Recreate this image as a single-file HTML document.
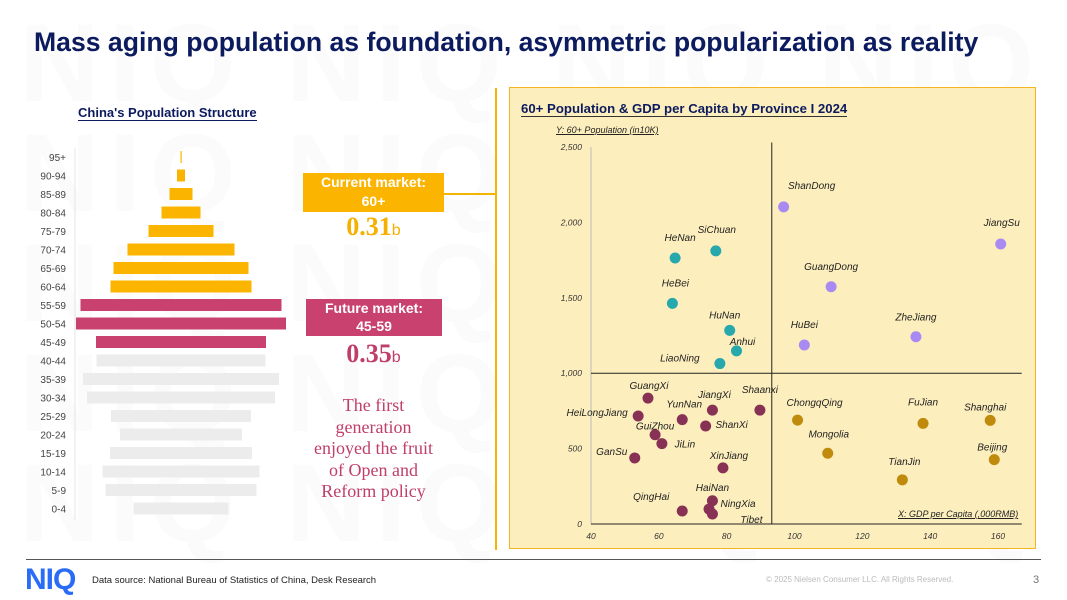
<!DOCTYPE html>
<html><head><meta charset="utf-8"><style>
body{margin:0;width:1067px;height:600px;background:#fff;font-family:"Liberation Sans",sans-serif;position:relative;overflow:hidden}
.abs{position:absolute}
.wm{position:absolute;font-weight:bold;font-size:110px;color:#fbfbfb;letter-spacing:10px;white-space:nowrap}
</style></head><body>
<div class="wm" style="left:20px;top:0px">NIQ NIQ NIQ NIQ NIQ</div>
<div class="wm" style="left:20px;top:110px">NIQ NIQ NIQ NIQ NIQ</div>
<div class="wm" style="left:20px;top:220px">NIQ NIQ NIQ NIQ NIQ</div>
<div class="wm" style="left:20px;top:330px">NIQ NIQ NIQ NIQ NIQ</div>
<div class="wm" style="left:20px;top:440px">NIQ NIQ NIQ NIQ NIQ</div>

<div class="abs" style="left:34px;top:27px;font-size:26.6px;font-weight:bold;color:#0c1a5e">Mass aging population as foundation, asymmetric popularization as reality</div>

<div class="abs" style="left:78px;top:105px;font-size:13px;font-weight:bold;color:#0c1a5e;border-bottom:1.5px solid #0c1a5e;line-height:15px">China's Population Structure</div>
<svg class="abs" id="pyr" style="left:0;top:0" width="300" height="530"></svg>

<div class="abs" style="left:303px;top:173px;width:141px;height:39px;background:#fbb400;color:#fff;font-weight:bold;font-size:14px;text-align:center;line-height:19px">Current market:<br>60+</div>
<div class="abs" style="left:444px;top:193px;width:52px;height:2px;background:#f5b400"></div>
<div class="abs" style="left:303px;top:212px;width:141px;text-align:center;font-family:'Liberation Serif',serif;color:#f5b000;font-weight:bold;font-size:26px">0.31<span style="font-family:'Liberation Sans';font-weight:normal;font-size:16px">b</span></div>
<div class="abs" style="left:306px;top:299px;width:136px;height:37px;background:#c9426f;color:#fff;font-weight:bold;font-size:14px;text-align:center;line-height:18px">Future market:<br>45-59</div>
<div class="abs" style="left:303px;top:339px;width:141px;text-align:center;font-family:'Liberation Serif',serif;color:#c03e6a;font-weight:bold;font-size:26px">0.35<span style="font-family:'Liberation Sans';font-weight:normal;font-size:16px">b</span></div>
<div class="abs" style="left:303px;top:395px;width:141px;text-align:center;font-family:'Liberation Serif',serif;color:#c03e6a;font-size:18px;line-height:21.5px">The first<br>generation<br>enjoyed the fruit<br>of Open and<br>Reform policy</div>

<div class="abs" style="left:495px;top:88px;width:2px;height:462px;background:#f5b400"></div>
<div class="abs" style="left:509px;top:87px;width:525px;height:460px;background:#fdefbd;border:1.5px solid #f3b622"></div>
<div class="abs" style="left:521px;top:101px;font-size:13.2px;font-weight:bold;color:#0c1a5e;border-bottom:1.5px solid #333;line-height:15px">60+ Population &amp; GDP per Capita by Province I 2024</div>
<div class="abs" style="left:556px;top:125px;font-size:9px;font-style:italic;color:#222;text-decoration:underline">Y: 60+ Population (in10K)</div>
<div class="abs" style="left:898px;top:509px;font-size:9px;font-style:italic;color:#222;text-decoration:underline">X: GDP per Capita (,000RMB)</div>
<svg class="abs" id="sc" style="left:0;top:0" width="1067" height="560"></svg>

<div class="abs" style="left:26px;top:559px;width:1015px;height:1px;background:#555"></div>
<div class="abs" style="left:25px;top:563px;font-size:30px;font-weight:bold;color:#2b6cf6;letter-spacing:-1px">NIQ</div>
<div class="abs" style="left:92px;top:575px;font-size:9.5px;color:#222">Data source: National Bureau of Statistics of China, Desk Research</div>
<div class="abs" style="left:766px;top:575px;font-size:8px;color:#bbb">© 2025 Nielsen Consumer LLC. All Rights Reserved.</div>
<div class="abs" style="left:1033px;top:574px;font-size:11px;color:#777">3</div>

<script>
const ageGroups=["95+","90-94","85-89","80-84","75-79","70-74","65-69","60-64","55-59","50-54","45-49","40-44","35-39","30-34","25-29","20-24","15-19","10-14","5-9","0-4"];
const popWidth=[1,8,23,39,65,107,135,141,201,210,170,169,196,188,140,122,142,157,151,95];
const groupType=["o","o","o","o","o","o","o","o","f","f","f","g","g","g","g","g","g","g","g","g"];

const provinces=["ShanDong","JiangSu","GuangDong","ZheJiang","HuBei","HeNan","SiChuan","HeBei","HuNan","Anhui","LiaoNing","GuangXi","HeiLongJiang","YunNan","JiangXi","Shaanxi","ShanXi","GuiZhou","JiLin","GanSu","XinJiang","HaiNan","NingXia","Tibet","QingHai","ChongqQing","Mongolia","FuJian","Shanghai","Beijing","TianJin"];
const gdp=[96.8,160.8,110.8,135.8,102.9,64.8,76.8,64.0,80.9,82.9,78.0,56.8,53.9,66.9,75.8,89.8,73.8,58.9,60.9,52.9,78.9,75.8,74.8,75.8,66.9,100.9,109.8,137.9,157.7,158.9,131.8];
const pop60=[2103,1857,1573,1242,1187,1764,1811,1463,1284,1148,1064,835,716,692,755,755,650,592,533,438,372,154,99,66,86,689,469,667,687,427,293];
const group=["p","p","p","p","p","t","t","t","t","t","t","m","m","m","m","m","m","m","m","m","m","m","m","m","m","g","g","g","g","g","g"];
const xTicks=[40,60,80,100,120,140,160];
const yTicks=[0,500,1000,1500,2000,2500];
const yTickLabels=["0","500","1,000","1,500","2,000","2,500"];
const labelDx=[28,1,0,0,0,5,1,3,-5,6,-40,1,-41,2,2,0,26,0,23,-23,6,0,29,39,-31,17,1,0,-5,-2,2];
const labelDy=[-19,-19,-18,-17,-18,-18,-19,-18,-13,-7,-3,-10,-1,-13,-13,-18,1,-6,3,-4,-10,-11,-3,8,-12,-15,-17,-19,-11,-10,-16];

const NS="http://www.w3.org/2000/svg";
function mk(svg,tag,attrs,txt){const e=document.createElementNS(NS,tag);for(const k in attrs)e.setAttribute(k,attrs[k]);if(txt!==undefined)e.textContent=txt;svg.appendChild(e);return e;}

const pyr=document.getElementById('pyr');
const cx=181, rowY=i=>157+i*18.5;
const pcol={o:"#fbb400",f:"#c9426f",g:"#ececec"};
mk(pyr,'line',{x1:75,y1:148,x2:75,y2:520,stroke:'#e6e6e6','stroke-width':1});
ageGroups.forEach((a,i)=>{
  const t=mk(pyr,'text',{x:66,y:rowY(i)+4,'text-anchor':'end','font-size':10,fill:'#444','font-family':'Liberation Sans'},a);
  
  
  const w=popWidth[i];
  const r=mk(pyr,'rect',{x:cx-w/2,y:rowY(i)-6,width:Math.max(w,1.2),height:12,fill:pcol[groupType[i]]});
  
  
});

const sc=document.getElementById('sc');
const X=v=>591+(v-40)*(998-591)/120;
const Y=v=>524-v*(524-147)/2500;
const ax={stroke:'#222','stroke-width':1};
mk(sc,'line',{x1:X(40),y1:Y(0),x2:X(40),y2:Y(2500),stroke:'#bbb','stroke-width':1});
mk(sc,'line',Object.assign({x1:X(40),y1:Y(0),x2:X(167),y2:Y(0)},ax));
mk(sc,'line',Object.assign({x1:X(40),y1:Y(1000),x2:X(167),y2:Y(1000)},ax));
mk(sc,'line',Object.assign({x1:X(93.3),y1:Y(2530),x2:X(93.3),y2:Y(0)},ax));
xTicks.forEach(v=>{const t=mk(sc,'text',{x:X(v),y:539,'text-anchor':'middle','font-size':8.5,'font-style':'italic',fill:'#333','font-family':'Liberation Sans'},v);
  
  });
yTicks.forEach((v,i)=>{const t=mk(sc,'text',{x:582,y:Y(v)+3,'text-anchor':'end','font-size':8.5,'font-style':'italic',fill:'#333','font-family':'Liberation Sans'},yTickLabels[i]);
  
  });
const gcol={p:"#a98af3",t:"#27a8ad",m:"#873154",g:"#c08b0c"};
provinces.forEach((p,i)=>{
  const c=mk(sc,'circle',{cx:X(gdp[i]),cy:Y(pop60[i]),r:5.5,fill:gcol[group[i]]});
  
  
  const t=mk(sc,'text',{x:X(gdp[i])+labelDx[i],y:Y(pop60[i])+labelDy[i]+1,'text-anchor':'middle','font-size':10,'font-style':'italic',fill:'#222','font-family':'Liberation Sans'},p);
  
  
});
</script>
</body></html>
